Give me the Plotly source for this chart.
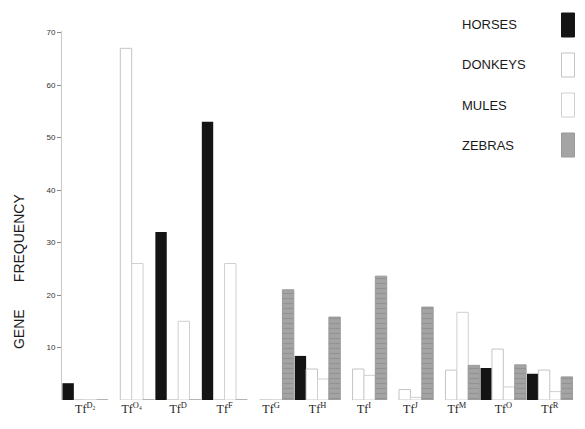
import plotly.graph_objects as go

categories = ["Tf<sup>D₂</sup>", "Tf<sup>O₄</sup>", "Tf<sup>D</sup>", "Tf<sup>F</sup>", "Tf<sup>G</sup>",
              "Tf<sup>H</sup>", "Tf<sup>I</sup>", "Tf<sup>J</sup>", "Tf<sup>M</sup>", "Tf<sup>O</sup>", "Tf<sup>R</sup>"]
horses  = [3.2, 0, 32, 53, 0, 8.4, 0, 0, 0, 6.1, 5.0]
donkeys = [0, 67, 0, 0, 0, 5.9, 5.9, 2.0, 5.7, 9.7, 5.7]
mules   = [0, 26, 15, 26, 0, 4.0, 4.7, 0.5, 16.7, 2.5, 1.6]
zebras  = [0, 0, 0, 0, 21, 15.8, 23.6, 17.7, 6.6, 6.7, 4.4]
series_names = ["HORSES", "DONKEYS", "MULES", "ZEBRAS"]
y_ticks = [10, 20, 30, 40, 50, 60, 70]

# the page body has an 8px margin on every side, so the figure is made smaller
OFF = 8
W, H = 585 - 2 * OFF, 429 - OFF
ML, MR, MT, MB = 62 - OFF, 3.5, 31 - OFF, 29

styles = [
    dict(color="#141414", line=dict(color="#141414", width=0)),
    dict(color="#ffffff", line=dict(color="#c4c4c4", width=1)),
    dict(color="#ffffff", line=dict(color="#d0d0d0", width=1)),
    dict(color="#a4a4a4", line=dict(color="#9a9a9a", width=1),
         pattern=dict(shape="-", fgcolor="#828282", size=5, solidity=0.25)),
]

fig = go.Figure()
for name, vals, st in zip(series_names, [horses, donkeys, mules, zebras], styles):
    fig.add_trace(go.Bar(x=categories, y=vals, name=name, marker=st, showlegend=False))

def px_x(x):
    # x given in screenshot pixels
    return (x - OFF - ML) / (W - ML - MR)

def px_y(y):
    return (H - MB - (y - OFF)) / (H - MT - MB)

annotations = []
shapes = []
legend_rows = [25, 65, 105, 145]
for name, st, yc in zip(series_names, styles, legend_rows):
    annotations.append(dict(x=px_x(460), y=px_y(yc), xref="paper", yref="paper",
                            text=name, showarrow=False, xanchor="left", yanchor="middle",
                            font=dict(family="Liberation Sans, Arial", size=13, color="#1a1a1a")))
    lc = st["line"]["color"] if st["line"]["width"] > 0 else st["color"]
    shapes.append(dict(type="rect", xref="paper", yref="paper",
                       x0=px_x(562), x1=px_x(575), y0=px_y(yc + 12), y1=px_y(yc - 12),
                       fillcolor=st["color"], line=dict(color=lc, width=1)))

sp = "\u00a0" * 7
annotations.append(dict(x=px_x(19), y=px_y(272), xref="paper", yref="paper",
                        text="GENE" + sp + "FREQUENCY", textangle=-90, showarrow=False,
                        xanchor="center", yanchor="middle",
                        font=dict(family="Liberation Sans, Arial", size=14, color="#1a1a1a")))

fig.update_layout(
    width=W, height=H,
    margin=dict(l=ML, r=MR, t=MT, b=MB),
    paper_bgcolor="white", plot_bgcolor="white",
    barmode="group", bargap=0.02, bargroupgap=0,
    annotations=annotations, shapes=shapes,
    xaxis=dict(showgrid=False, showline=False, zeroline=False, ticks="",
               tickfont=dict(family="Liberation Serif, Times New Roman", size=12, color="#222")),
    yaxis=dict(range=[0, 70.3], tickvals=y_ticks, ticktext=[str(v) for v in y_ticks],
               showgrid=False, zeroline=False, showline=True, linecolor="#c8c8c8", linewidth=1,
               ticks="outside", ticklen=4, tickcolor="#888",
               tickfont=dict(family="Liberation Sans, Arial", size=8, color="#333")),
)

fig.write_html("out.html")
